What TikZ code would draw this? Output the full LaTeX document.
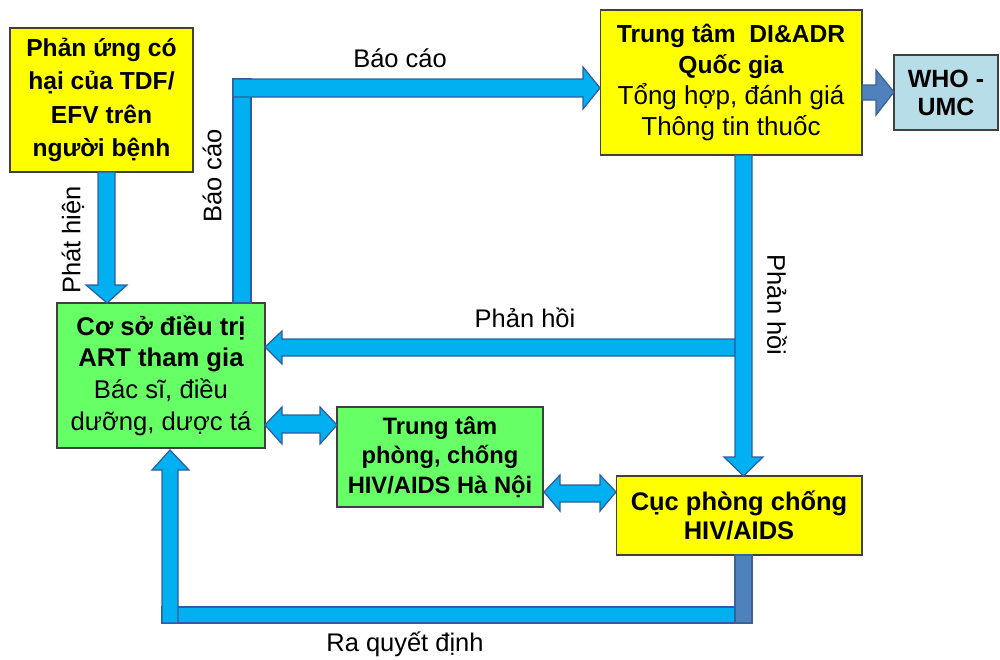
\documentclass[tikz,border=0pt]{standalone}
\usepackage{fontspec}
\setmainfont{Liberation Sans}
\definecolor{cyanA}{HTML}{00B0F0}
\definecolor{edgeB}{HTML}{2F5D9E}
\definecolor{steel}{HTML}{4F81BD}
\definecolor{steelE}{HTML}{3A6296}
\definecolor{yel}{HTML}{FFFF00}
\definecolor{grn}{HTML}{66FF66}
\definecolor{lblue}{HTML}{B7DDE8}
\begin{document}
\begin{tikzpicture}[x=0.02cm,y=0.02cm,
  box/.style={draw=black!75, line width=0.6pt, inner sep=0pt, align=center, text=black},
  cyanarrow/.style={fill=cyanA, draw=edgeB, line width=0.7pt, line join=miter},
  steelarrow/.style={fill=steel, draw=steelE, line width=0.7pt, line join=miter},
  lbl/.style={font=\fontsize{14.5}{16}\selectfont, inner sep=0pt}]
\useasboundingbox (0,0) rectangle (1000,-659);

% boxes
\node[box, fill=yel, minimum width=3.66cm, minimum height=2.88cm,
      font=\fontsize{14}{19}\selectfont\bfseries] (A) at (101.5,-100)
  {Phản ứng có\\hại của TDF/\\EFV trên\\người bệnh};
\node[box, fill=yel, minimum width=5.24cm, minimum height=2.9cm,
      font=\fontsize{14.8}{17.6}\selectfont] (B) at (731,-82.5)
  {{\fontsize{14}{17.6}\selectfont\bfseries Trung tâm\ \ DI\&ADR}\\{\fontsize{14}{17.6}\selectfont\bfseries Quốc gia}\\Tổng hợp, đánh giá\\Thông tin thuốc};
\node[box, fill=lblue, minimum width=2.08cm, minimum height=1.5cm,
      font=\fontsize{14.2}{16}\selectfont\bfseries] (W) at (946,-92.5)
  {WHO -\\UMC};
\node[box, fill=grn, minimum width=4.16cm, minimum height=2.9cm,
      font=\fontsize{14.6}{18}\selectfont] (D) at (161,-375.5)
  {\textbf{Cơ sở điều trị}\\\textbf{ART tham gia}\\Bác sĩ, điều\\dưỡng, dược tá};
\node[box, fill=grn, minimum width=4.12cm, minimum height=2cm,
      font=\fontsize{13.5}{16.7}\selectfont\bfseries] (E) at (440,-457)
  {Trung tâm\\phòng, chống\\HIV/AIDS Hà Nội};
\node[box, fill=yel, minimum width=4.92cm, minimum height=1.58cm,
      font=\fontsize{14.5}{16}\selectfont\bfseries] (F) at (739,-515.5)
  {Cục phòng chống\\HIV/AIDS};

% Phát hiện
\filldraw[cyanarrow] (98,-172) -- (115,-172) -- (115,-285) -- (127,-285) -- (107,-303)
  -- (86,-285) -- (98,-285) -- cycle;
% Báo cáo (L)
\filldraw[cyanarrow] (233,-303) rectangle (251,-79);
\filldraw[cyanarrow] (233,-79) -- (583,-79) -- (583,-67) -- (600,-88) -- (583,-109)
  -- (583,-97) -- (233,-97) -- cycle;
% to WHO
\filldraw[steelarrow] (862,-85) -- (876,-85) -- (876,-70) -- (894,-92) -- (876,-115)
  -- (876,-100) -- (862,-100) -- cycle;
% Phản hồi horizontal
\filldraw[cyanarrow] (735,-339) -- (282,-339) -- (282,-331) -- (265,-347) -- (282,-364)
  -- (282,-356) -- (735,-356) -- cycle;
% Phản hồi vertical
\filldraw[cyanarrow] (735,-155) -- (752,-155) -- (752,-457) -- (763,-457) -- (743.5,-476)
  -- (724,-457) -- (735,-457) -- cycle;
% D <-> E
\filldraw[cyanarrow] (265,-425) -- (282,-407) -- (282,-415) -- (320,-415) -- (320,-407)
  -- (337,-425) -- (320,-444) -- (320,-433) -- (282,-433) -- (282,-444) -- cycle;
% E <-> F
\filldraw[cyanarrow] (544,-492) -- (560,-475) -- (560,-485) -- (600,-485) -- (600,-475)
  -- (616,-492) -- (600,-511) -- (600,-502) -- (560,-502) -- (560,-511) -- cycle;
% Ra quyết định
\filldraw[cyanarrow] (162,-607) rectangle (736,-623);
\filldraw[cyanarrow] (162,-623) -- (162,-470) -- (152,-470) -- (170,-450) -- (189,-470)
  -- (178,-470) -- (178,-623) -- cycle;
\filldraw[steelarrow] (735,-555) rectangle (752,-623);

% labels
\node[lbl] (l1) at (400,-58) {Báo cáo};
\node[lbl, rotate=90] (l2) at (212,-176) {Báo cáo};
\node[lbl, rotate=90] (l3) at (73,-240) {Phát hiện};
\node[lbl] (l4) at (525,-318) {Phản hồi};
\node[lbl, rotate=-90] (l5) at (777,-305) {Phản hồi};
\node[lbl] (l6) at (405,-644) {Ra quyết định};
\end{tikzpicture}
\end{document}
